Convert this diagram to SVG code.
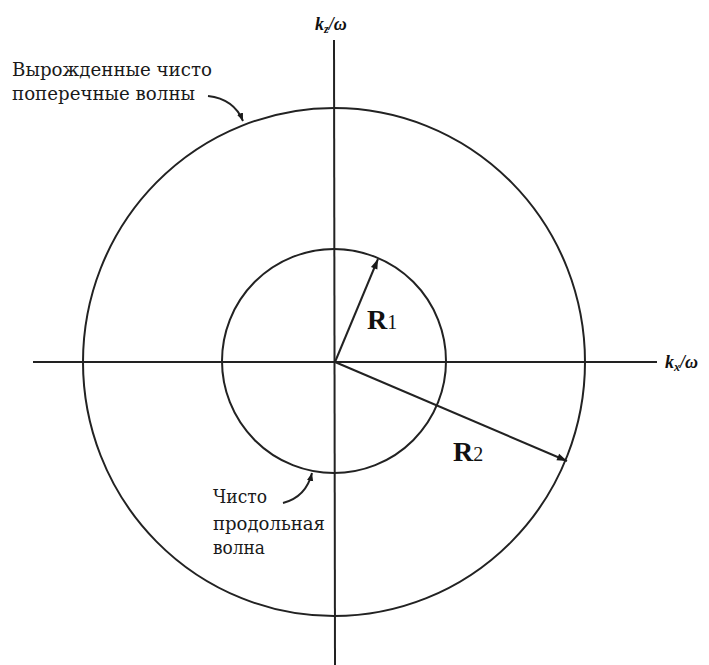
<svg xmlns="http://www.w3.org/2000/svg" width="709" height="665" viewBox="0 0 709 665">
<defs>
<marker id="ah" viewBox="0 0 10 10" refX="10" refY="5" markerWidth="8" markerHeight="8" orient="auto" markerUnits="userSpaceOnUse">
<path d="M0,1 L10,5 L0,9 z" fill="#1a1a1a"/>
</marker>
<marker id="ah2" viewBox="0 0 10 10" refX="10" refY="5" markerWidth="12" markerHeight="10" orient="auto" markerUnits="userSpaceOnUse">
<path d="M0,1.5 L10,5 L0,8.5 z" fill="#1a1a1a"/>
</marker>
</defs>
<style>
.ln{fill:none;stroke:#222;stroke-width:2}
.lbl{font-family:"DejaVu Serif","Liberation Serif",serif;font-size:18px;fill:#1a1a1a}
.ax{font-family:"Liberation Serif","DejaVu Serif",serif;font-size:18px;font-weight:bold;font-style:italic;fill:#111}
.R{font-family:"Liberation Serif","DejaVu Serif",serif;font-weight:bold;fill:#111}
</style>
<rect width="709" height="665" fill="#fff"/>
<g id="axes">
<line class="ln" x1="334" y1="40" x2="335" y2="665"/>
<line class="ln" x1="33" y1="362" x2="657" y2="362"/>
<text class="ax" x="315" y="30">k<tspan font-size="12" dy="3">z</tspan><tspan dy="-3">/ω</tspan></text>
<text class="ax" x="665" y="368">k<tspan font-size="12" dy="3">x</tspan><tspan dy="-3">/ω</tspan></text>
</g>
<g id="outer-circle">
<ellipse class="ln" cx="334" cy="362" rx="251" ry="254"/>
</g>
<g id="inner-circle">
<circle class="ln" cx="334" cy="361" r="112"/>
</g>
<g id="connectors">
<line class="ln" x1="335" y1="362" x2="378" y2="259" marker-end="url(#ah2)"/>
<line class="ln" x1="335" y1="362" x2="567" y2="461" marker-end="url(#ah2)"/>
<path class="ln" d="M208,96 Q234,99 243,121" stroke-width="2.4" marker-end="url(#ah)"/>
<path class="ln" d="M283,503 Q306,497 312,473" stroke-width="2.4" marker-end="url(#ah)"/>
</g>
<g id="label-R1">
<text class="R" x="367" y="329" font-size="28">R<tspan font-size="20" font-weight="normal">1</tspan></text>
</g>
<g id="label-R2">
<text class="R" x="453" y="461" font-size="28">R<tspan font-size="20" font-weight="normal">2</tspan></text>
</g>
<g id="label-transverse">
<text class="lbl" x="12" y="76" textLength="200" lengthAdjust="spacingAndGlyphs">Вырожденные чисто</text>
<text class="lbl" x="12" y="100" textLength="183" lengthAdjust="spacingAndGlyphs">поперечные волны</text>
</g>
<g id="label-longitudinal">
<text class="lbl" x="213" y="503" textLength="54" lengthAdjust="spacingAndGlyphs">Чисто</text>
<text class="lbl" x="213" y="530" textLength="112" lengthAdjust="spacingAndGlyphs">продольная</text>
<text class="lbl" x="213" y="554" textLength="52" lengthAdjust="spacingAndGlyphs">волна</text>
</g>
</svg>
